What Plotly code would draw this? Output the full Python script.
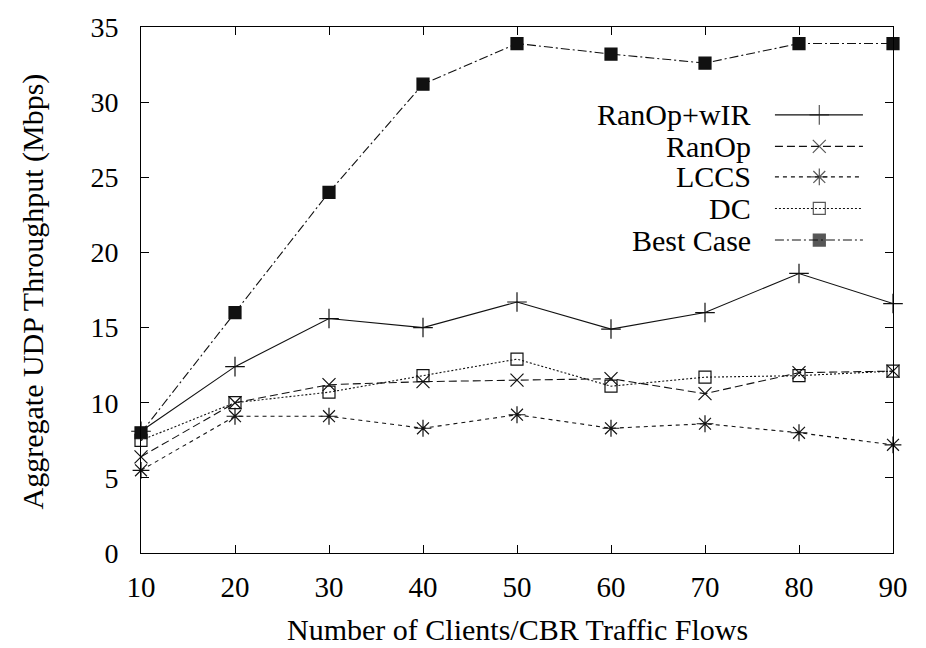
import plotly.graph_objects as go

clients = [10, 20, 30, 40, 50, 60, 70, 80, 90]
ranop_wir = [8.1, 12.4, 15.6, 15.0, 16.7, 14.9, 16.0, 18.6, 16.6]
ranop = [6.4, 10.0, 11.2, 11.4, 11.5, 11.6, 10.6, 12.0, 12.1]
lccs = [5.5, 9.1, 9.1, 8.3, 9.2, 8.3, 8.6, 8.0, 7.2]
dc = [7.5, 10.0, 10.7, 11.8, 12.9, 11.1, 11.7, 11.8, 12.1]
best_case = [8.0, 16.0, 24.0, 31.2, 33.9, 33.2, 32.6, 33.9, 33.9]

series_names = ["RanOp+wIR", "RanOp", "LCCS", "DC", "Best Case"]
series_values = [ranop_wir, ranop, lccs, dc, best_case]
dashes = ["solid", "8px,4px", "4px,4px", "2px,2px", "9px,3px,2px,3px"]
symbols = ["cross-thin-open", "x-thin-open", "asterisk-open", "square-open", "square"]
sizes = [14, 13, 14, 12, 12]

FONT = "'Liberation Serif', 'Times New Roman', 'DejaVu Serif', serif"
COL = "#111111"

fig = go.Figure()
for name, vals, dsh, sym, sz in zip(series_names, series_values, dashes, symbols, sizes):
    fig.add_trace(go.Scatter(
        x=clients, y=vals, mode="lines+markers", name=name,
        line=dict(color=COL, width=1.1, dash=dsh),
        marker=dict(symbol=sym, size=sz, color=COL, line=dict(color=COL, width=1.2)),
        cliponaxis=False, showlegend=False,
    ))

# manual legend (text right-aligned, sample on the right) on an overlay unit axis
leg_y = [0.833, 0.773, 0.715, 0.655, 0.595]
for name, dsh, sym, sz, yy in zip(series_names, dashes, symbols, sizes, leg_y):
    fig.add_trace(go.Scatter(
        x=[0.843, 0.902, 0.960], y=[yy, yy, yy], xaxis="x2", yaxis="y2",
        mode="lines+markers",
        line=dict(color=COL, width=1.1, dash=dsh),
        marker=dict(symbol=sym, size=[0, sz, 0], color=COL, line=dict(color=COL, width=1.2)),
        showlegend=False, hoverinfo="skip", cliponaxis=False,
    ))
    fig.add_annotation(x=0.814, y=yy, xref="paper", yref="paper", text=name,
                       showarrow=False, xanchor="right", yanchor="middle",
                       font=dict(family=FONT, size=30, color="black"))

fig.add_annotation(x=(33 - 141) / 752, y=(553 - 288) / 533, xref="paper", yref="paper",
                   text="Aggregate UDP Throughput (Mbps)", textangle=-90, showarrow=False,
                   xanchor="center", yanchor="middle",
                   font=dict(family=FONT, size=30, color="black"))
fig.add_annotation(x=0.5, y=-(631 - 553) / 533, xref="paper", yref="paper",
                   text="Number of Clients/CBR Traffic Flows", showarrow=False,
                   xanchor="center", yanchor="middle",
                   font=dict(family=FONT, size=30, color="black"))

axis_common = dict(showgrid=False, zeroline=False, showline=True, linecolor="black",
                   linewidth=1, mirror="ticks", ticks="inside", ticklen=8,
                   tickcolor="black", tickwidth=1)

fig.update_layout(
    width=926, height=648, paper_bgcolor="white", plot_bgcolor="white",
    margin=dict(l=141, r=33, t=20, b=95),
    font=dict(family=FONT),
    xaxis=dict(range=[10, 90], tickmode="array", tickvals=clients,
               ticklabelstandoff=8, tickfont=dict(family=FONT, size=29, color="black"),
               **axis_common),
    yaxis=dict(range=[0, 35], tickmode="array", tickvals=[0, 5, 10, 15, 20, 25, 30, 35],
               ticklabelstandoff=16, tickfont=dict(family=FONT, size=28, color="black"),
               **axis_common),
    xaxis2=dict(range=[0, 1], overlaying="x", visible=False, fixedrange=True),
    yaxis2=dict(range=[0, 1], overlaying="y", visible=False, fixedrange=True),
)

fig.write_html("out.html")
